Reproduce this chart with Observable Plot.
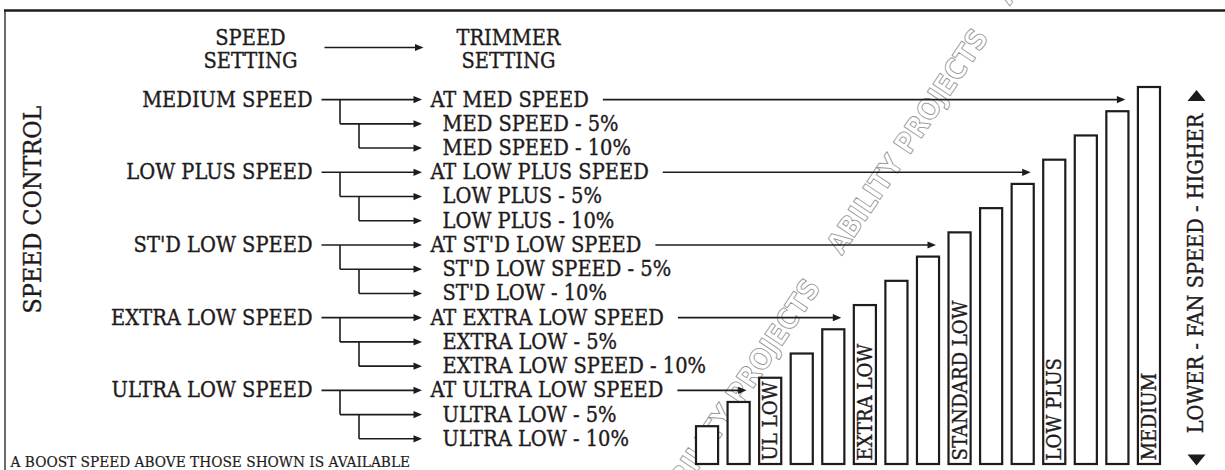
<!DOCTYPE html>
<html>
<head>
<meta charset="utf-8">
<script src="https://cdn.jsdelivr.net/npm/d3@7"></script>
<script src="https://cdn.jsdelivr.net/npm/@observablehq/plot@0.6"></script>
<style>
  html, body { margin: 0; padding: 0; background: #ffffff; }
  #chart svg { display: block; }
  g[aria-label="watermark"] text { letter-spacing: 1px; }
</style>
</head>
<body>
<div id="chart"></div>
<script>
// ---------------- data ----------------
const speedSettings = ["MEDIUM SPEED", "LOW PLUS SPEED", "ST'D LOW SPEED", "EXTRA LOW SPEED", "ULTRA LOW SPEED"];
const trimmerSettings = [
  "AT MED SPEED", "MED SPEED - 5%", "MED SPEED - 10%",
  "AT LOW PLUS SPEED", "LOW PLUS - 5%", "LOW PLUS - 10%",
  "AT ST'D LOW SPEED", "ST'D LOW SPEED - 5%", "ST'D LOW - 10%",
  "AT EXTRA LOW SPEED", "EXTRA LOW - 5%", "EXTRA LOW SPEED - 10%",
  "AT ULTRA LOW SPEED", "ULTRA LOW - 5%", "ULTRA LOW - 10%"
];
const trimmerSpeed = [
  "MEDIUM SPEED", "MEDIUM SPEED", "MEDIUM SPEED",
  "LOW PLUS SPEED", "LOW PLUS SPEED", "LOW PLUS SPEED",
  "ST'D LOW SPEED", "ST'D LOW SPEED", "ST'D LOW SPEED",
  "EXTRA LOW SPEED", "EXTRA LOW SPEED", "EXTRA LOW SPEED",
  "ULTRA LOW SPEED", "ULTRA LOW SPEED", "ULTRA LOW SPEED"
];
const fanSpeedLevel = [15, 14, 13, 12, 11, 10, 9, 8, 7, 6, 5, 4, 3, 2, 1];
const barLevels = [1, 2, 3, 4, 5, 6, 7, 8, 9, 10, 11, 12, 13, 14, 15];
const barLabelText = ["UL LOW", "EXTRA LOW", "STANDARD LOW", "LOW PLUS", "MEDIUM"];
const barLabelLevel = [3, 6, 9, 12, 15];
const headerFrom = ["SPEED", "SETTING"];
const headerTo = ["TRIMMER", "SETTING"];
const sideTitle = "SPEED CONTROL";
const axisTitle = "LOWER - FAN SPEED - HIGHER";
const footnote = "A BOOST SPEED ABOVE THOSE SHOWN IS AVAILABLE";
const watermark = "ABILITY PROJECTS";

// ---------------- layout helpers ----------------
const INK = "#1f1b1c";
const SERIF = `"DejaVu Serif Condensed", "DejaVu Serif", serif`;
const BASE = -0.56; // bar foot, in level units
const ctx = document.createElement("canvas").getContext("2d");
function measure(text, size, family, weight = "normal") {
  ctx.font = `${weight} ${size}px ${family}`;
  return ctx.measureText(text).width;
}
function fit(text, target, family, weight = "normal") {
  return 100 * target / measure(text, 100, family, weight);
}
const bodySize = fit("AT ULTRA LOW SPEED", 233, SERIF);
const sideSize = fit(sideTitle, 208, SERIF);
const axisSize = fit(axisTitle, 320, SERIF);
const barSize = fit("STANDARD LOW", 160, SERIF);
const noteSize = fit(footnote, 400, SERIF);
const WMFONT = `"DejaVu Sans Condensed", "DejaVu Sans", sans-serif`;
const wmSize = fit(watermark, 279 - 15, WMFONT, "bold");

// Plot's own scales for the data
const xBand = Plot.scale({x: {type: "band", domain: barLevels, range: [696, 1160], paddingInner: 0.3, paddingOuter: 0, round: false}});
const yLevel = Plot.scale({y: {type: "linear", domain: [BASE, 15], range: [464, 87]}});

const rows = trimmerSettings.map((setting, i) => ({setting, speed: trimmerSpeed[i], level: fanSpeedLevel[i]}));
rows.forEach((r, i) => { r.step = rows.slice(0, i).filter(q => q.speed === r.speed).length; });
const groupRows = rows.filter(r => r.step === 0);
const subRows = rows.filter(r => r.step > 0);
const bars = barLevels.map(level => ({level}));
const barLabels = barLabelText.map((label, i) => ({label, level: barLabelLevel[i]}));

const rowY = d => yLevel.apply(d.level - 0.5);
const branchX = d => d.step === 1 ? 339.5 : 358.5;
const textX = d => d.step === 0 ? 430 : 442;
const barLeft = d => xBand.apply(d.level) - 1;
const tipX = d => barLeft(d) - 12;

const headRight = {draw(c) { c.moveTo(0, 0); c.lineTo(-8.5, -3.6); c.lineTo(-8.5, 3.6); c.closePath(); }};
const triUp = {draw(c) { c.moveTo(0, -5.5); c.lineTo(9, 5.5); c.lineTo(-9, 5.5); c.closePath(); }};
const triDown = {draw(c) { c.moveTo(0, 5.5); c.lineTo(9, -5.5); c.lineTo(-9, -5.5); c.closePath(); }};

const txt = {fill: INK, fontFamily: SERIF, stroke: INK, strokeWidth: 0.35};

const chart = Plot.plot({
  width: 1225,
  height: 470,
  margin: 0,
  x: {type: "linear", domain: [0, 1225], range: [0, 1225], axis: null},
  y: {type: "linear", domain: [0, 470], range: [0, 470], axis: null},
  style: {background: "#ffffff"},
  marks: [
    // watermark
    Plot.text([[907.5, 141], [739.5, 391], [1075.5, -109]], {
      x: d => d[0], y: d => d[1], text: () => watermark, rotate: -56,
      fontFamily: WMFONT, fontWeight: "bold", fontSize: wmSize,
      fill: "none", stroke: "#8e8e8e", strokeWidth: 0.8, ariaLabel: "watermark"
    }),
    // border
    Plot.ruleY([10], {x1: 4, x2: 1225, stroke: INK, strokeWidth: 2.5}),
    Plot.ruleX([4.5], {y1: 10, y2: 470, stroke: INK, strokeWidth: 1.3}),
    // header
    Plot.text(headerFrom, {x: 250, y: (d, i) => i === 0 ? 37.5 : 61, text: d => d, fontSize: bodySize, ...txt}),
    Plot.text(headerTo, {x: 508, y: (d, i) => i === 0 ? 37.5 : 61, text: d => d, fontSize: bodySize, ...txt}),
    Plot.link([0], {x1: 324, x2: 416, y1: 47, y2: 47, stroke: INK, strokeWidth: 1.6}),
    Plot.dot([0], {x: 423, y: 47, symbol: headRight, fill: INK, stroke: "none"}),
    // side titles
    Plot.text([sideTitle], {x: 33, y: 209, text: d => d, rotate: -90, fontSize: sideSize, ...txt}),
    Plot.text([axisTitle], {x: 1196, y: 273, text: d => d, rotate: -90, fontSize: axisSize, ...txt}),
    Plot.dot([0], {x: 1196, y: 95, symbol: triUp, fill: INK, stroke: "none"}),
    Plot.dot([0], {x: 1196, y: 459.5, symbol: triDown, fill: INK, stroke: "none"}),
    // speed settings
    Plot.text(groupRows, {x: 312, y: rowY, text: "speed", textAnchor: "end", fontSize: bodySize, ...txt}),
    Plot.link(groupRows, {x1: 321, x2: 415, y1: rowY, y2: rowY, stroke: INK, strokeWidth: 1.6}),
    Plot.link(subRows, {x1: branchX, x2: branchX, y1: d => yLevel.apply(d.level + 0.5), y2: rowY, stroke: INK, strokeWidth: 1.6}),
    Plot.link(subRows, {x1: branchX, x2: 415, y1: rowY, y2: rowY, stroke: INK, strokeWidth: 1.6}),
    Plot.dot(rows, {x: 421.5, y: rowY, symbol: headRight, fill: INK, stroke: "none"}),
    // trimmer settings
    Plot.text(rows, {x: textX, y: rowY, text: "setting", textAnchor: "start", fontSize: bodySize, ...txt}),
    // arrows from trimmer to bars
    Plot.link(groupRows, {x1: d => 430 + measure(d.setting, bodySize, SERIF) + 14, x2: d => tipX(d) - 6, y1: rowY, y2: rowY, stroke: INK, strokeWidth: 1.6}),
    Plot.dot(groupRows, {x: tipX, y: rowY, symbol: headRight, fill: INK, stroke: "none"}),
    // bars
    Plot.rect(bars, {
      x1: d => xBand.apply(d.level), x2: d => xBand.apply(d.level) + xBand.bandwidth,
      y1: () => yLevel.apply(BASE), y2: d => yLevel.apply(d.level),
      fill: "#ffffff", stroke: INK, strokeWidth: 2.2
    }),
    Plot.text(barLabels, {
      x: d => xBand.apply(d.level) + xBand.bandwidth / 2, y: 460, text: "label",
      rotate: -90, textAnchor: "start", fontSize: barSize, ...txt
    }),
    // footnote
    Plot.text([footnote], {x: 10, y: 461.5, text: d => d, textAnchor: "start", fontSize: noteSize, ...txt, strokeWidth: 0.2})
  ]
});
document.getElementById("chart").appendChild(chart);
</script>
</body>
</html>
